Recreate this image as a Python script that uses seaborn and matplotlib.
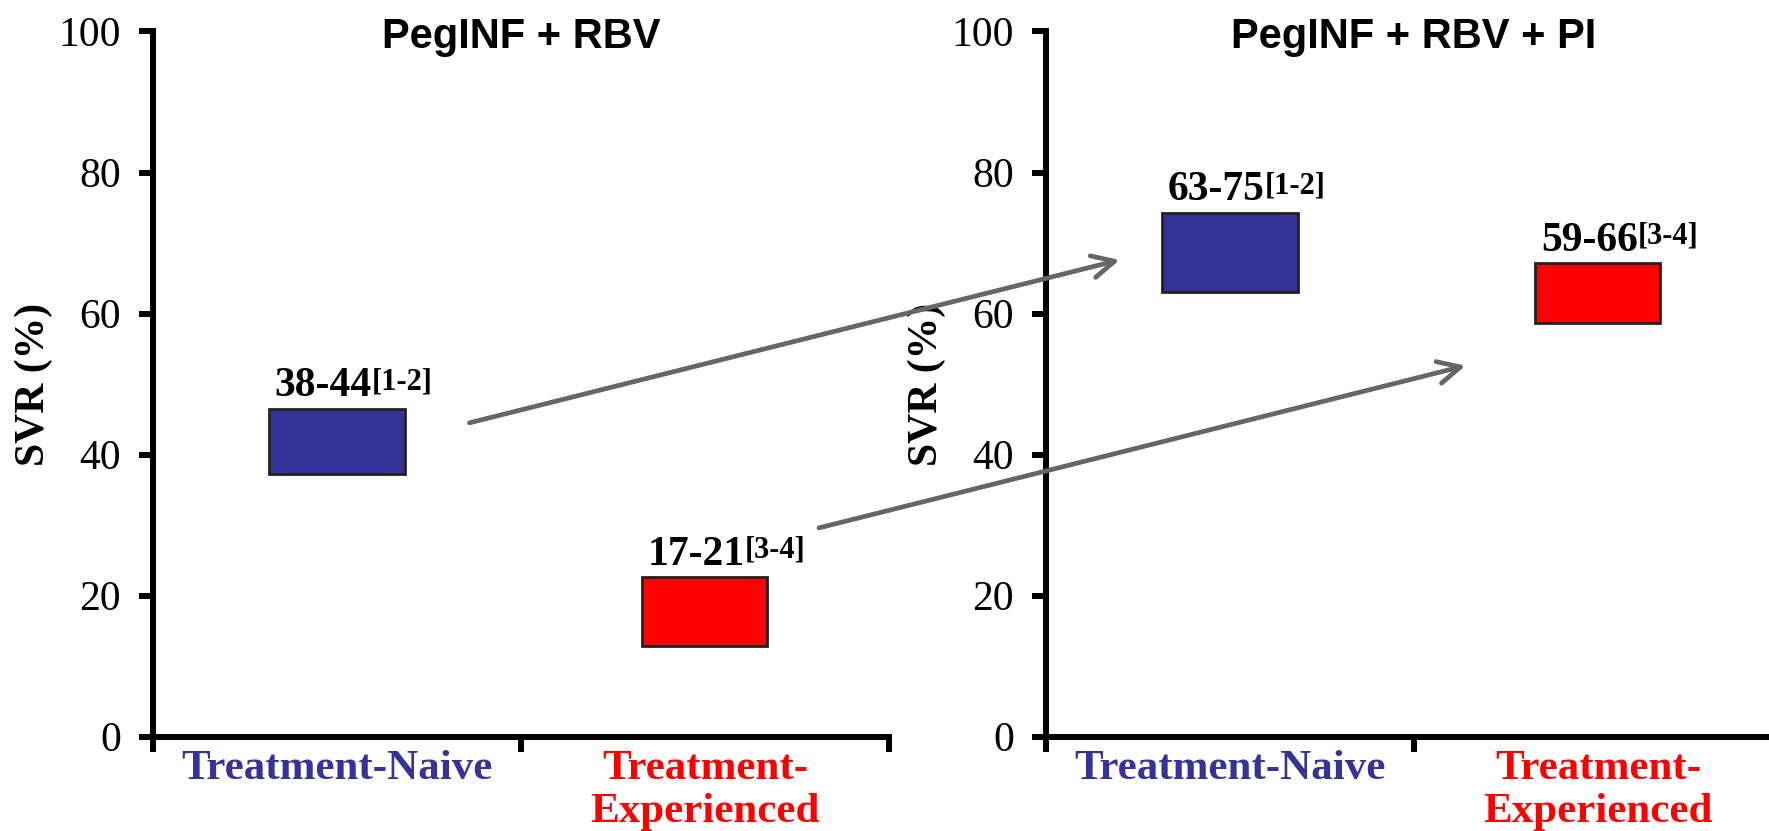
import matplotlib
matplotlib.use('Agg')
import matplotlib.pyplot as plt
import seaborn as sns
import pandas as pd

groups = ['Treatment-Naive', 'Treatment-\nExperienced']
group_colors = ['#333399', '#ff0000']
refs = ['[1-2]', '[3-4]']

# PegINF + RBV (boxes as drawn on the slide)
dual_low = [37.2, 12.8]
dual_high = [46.5, 22.6]
dual_text = ['38-44', '17-21']

# PegINF + RBV + PI
triple_low = [63.0, 58.6]
triple_high = [74.3, 67.1]
triple_text = ['63-75', '59-66']

titles = ['PegINF + RBV', 'PegINF + RBV + PI']

# arrows: start in left panel data, end in right panel data
arrow_start = [(0.36, 44.5), (1.31, 29.6)]
arrow_end = [(-0.30, 67.6), (0.64, 52.6)]

sns.set_style('ticks')
plt.rcParams['font.family'] = ['Liberation Serif', 'DejaVu Serif']
plt.rcParams['text.color'] = 'black'
plt.rcParams['axes.labelcolor'] = 'black'
plt.rcParams['xtick.color'] = 'black'
plt.rcParams['ytick.color'] = 'black'

fig = plt.figure(figsize=(17.69, 8.31), dpi=100)
ax1 = fig.add_axes([0.0865, 0.1136, 0.416, 0.8485])
ax2 = fig.add_axes([0.5913, 0.1136, 0.416, 0.8485])

widths = [0.37, 0.34]


def draw_panel(ax, low, high, texts, title):
    df = pd.DataFrame({'group': groups,
                       'span': [h - l for h, l in zip(high, low)]})
    sns.barplot(data=df, x='group', y='span', hue='group', order=groups,
                hue_order=groups, palette=group_colors, saturation=1,
                width=0.36, edgecolor='#222222', linewidth=2,
                legend=False, ax=ax)
    for patch, lo, hi, w, txt, ref in zip(ax.patches, low, high, widths, texts, refs):
        cx = patch.get_x() + patch.get_width() / 2
        patch.set_y(lo)
        patch.set_width(w)
        patch.set_x(cx - w / 2)
        t = ax.annotate(txt, xy=(cx - w / 2, hi), xytext=(4, 9),
                        textcoords='offset points', ha='left', va='baseline',
                        fontsize=30, fontweight='bold')
        ax.annotate(ref, xy=(1, 1.0), xycoords=t, ha='left', va='top',
                    fontsize=22, fontweight='bold')

    ax.set_xlim(-0.5, 1.5)
    ax.set_ylim(0, 100)
    ax.set_yticks(range(0, 101, 20))
    ax.set_xticks([-0.5, 0.5, 1.5])
    ax.set_xticklabels([])
    ax.set_xticks([0, 1], minor=True)
    ax.set_xticklabels(groups, minor=True, fontsize=31, fontweight='bold',
                       linespacing=1.15)
    for lab, c in zip(ax.get_xticklabels(minor=True), group_colors):
        lab.set_color(c)
    ax.tick_params(axis='x', which='minor', length=0, pad=10)
    ax.tick_params(axis='x', which='major', length=11, width=4.3, direction='out')
    ax.tick_params(axis='y', length=10, width=4.3, labelsize=30, pad=13)
    ax.set_xlabel('')
    ax.set_ylabel('SVR (%)', fontsize=30, fontweight='bold', labelpad=4)
    for side in ['top', 'right']:
        ax.spines[side].set_visible(False)
    for side in ['left', 'bottom']:
        ax.spines[side].set_linewidth(4.3)
        ax.spines[side].set_color('black')
    ax.text(0.5, 0.992, title, transform=ax.transAxes, ha='center', va='center',
            fontsize=30, fontweight='bold', family='Liberation Sans')


draw_panel(ax1, dual_low, dual_high, dual_text, titles[0])
draw_panel(ax2, triple_low, triple_high, triple_text, titles[1])

for start, end in zip(arrow_start, arrow_end):
    ax2.annotate('', xy=end, xycoords='data', xytext=start,
                 textcoords=ax1.transData, annotation_clip=False, zorder=10,
                 arrowprops=dict(arrowstyle='->,head_length=0.4,head_width=0.2',
                                 color='#666666', lw=3.4, mutation_scale=40,
                                 shrinkA=0, shrinkB=0))

fig.savefig('out.png', dpi=100)
